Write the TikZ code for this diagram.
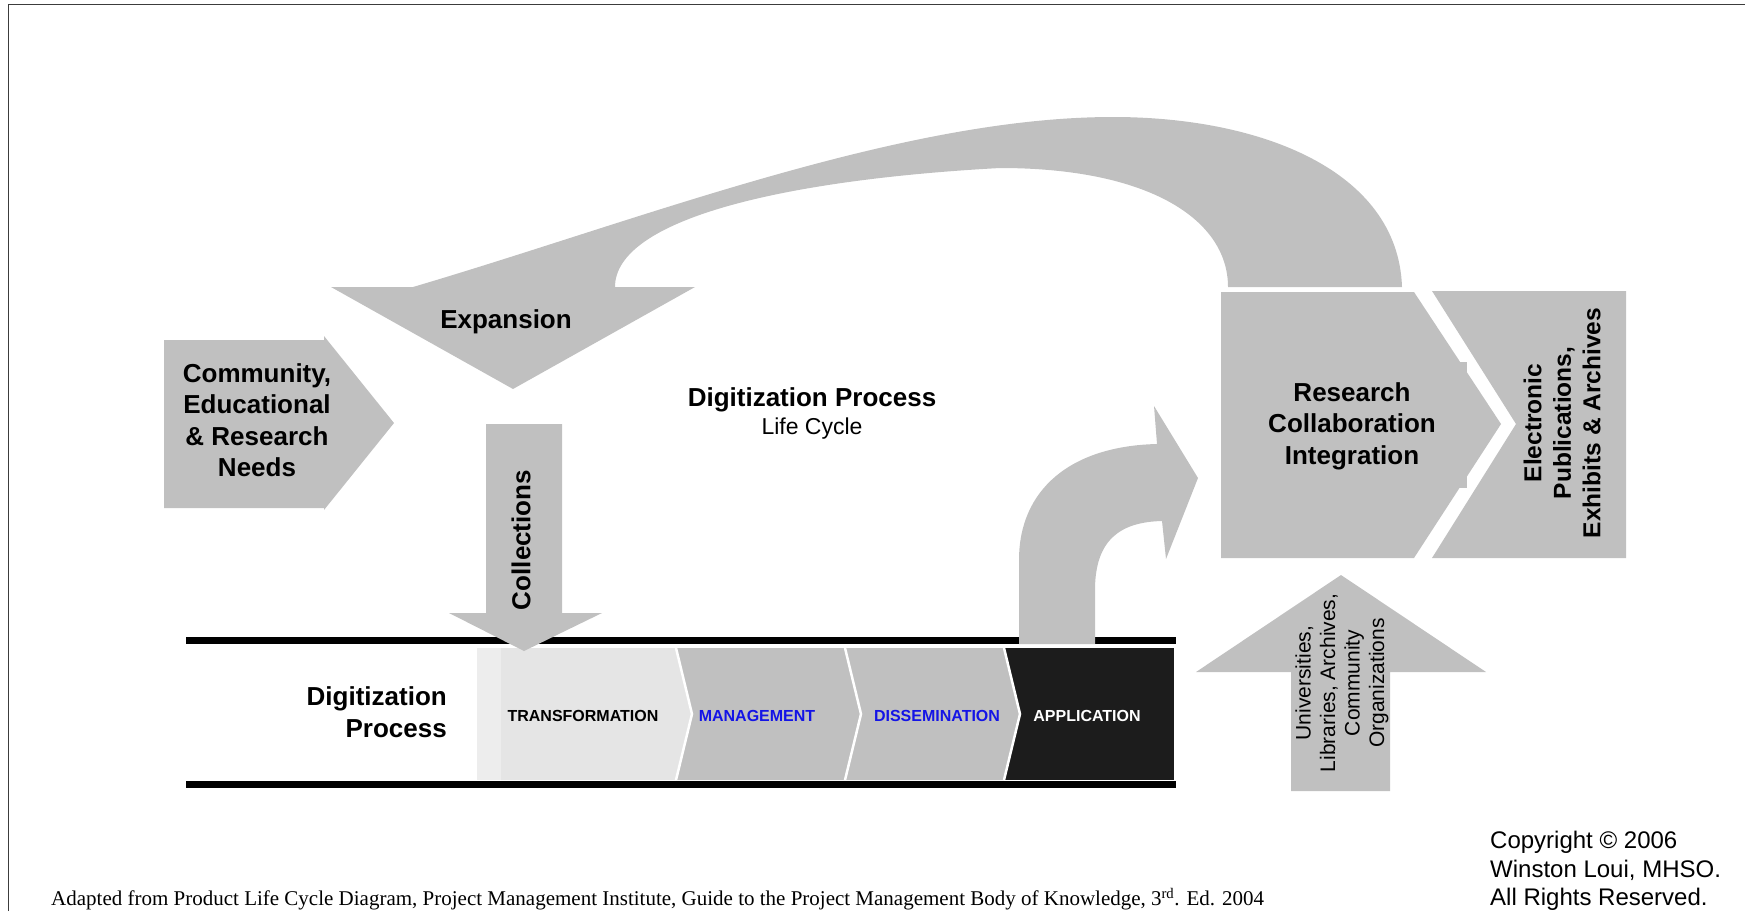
\documentclass[tikz,border=0pt]{standalone}
\usepackage{fontspec}
\setmainfont{Liberation Sans}
\newfontfamily\timesfont{Liberation Serif}
\usetikzlibrary{positioning}
\definecolor{boxgray}{HTML}{C0C0C0}
\definecolor{palegray}{HTML}{E5E5E5}
\definecolor{stripgray}{HTML}{EDEDED}
\definecolor{appblack}{HTML}{1C1C1C}
\definecolor{stageblue}{HTML}{1414E6}
\definecolor{framegray}{HTML}{3C3C3C}

\begin{document}
\begin{tikzpicture}[x=1pt, y=-1pt]
\tikzstyle{greyfill} = [fill=boxgray]
\tikzstyle{boldtext} = [font=\fontsize{26}{31.5}\selectfont\bfseries, align=center, inner sep=0pt]
\tikzstyle{sidetext} = [font=\fontsize{24.5}{29.5}\selectfont\bfseries, align=center, inner sep=0pt]
\tikzstyle{stagetext} = [font=\fontsize{16}{19}\selectfont\bfseries, inner sep=0pt]
\tikzstyle{plaintext} = [align=center, inner sep=0pt]

\useasboundingbox (0,0) rectangle (1745,911);
\draw[framegray, line width=1.5] (8.5,911) -- (8.5,4.5) -- (1745,4.5);

% return arrow from research back to expansion
\fill[greyfill] (413,287) .. controls (640,220) and (900,117) .. (1113,117)
  .. controls (1260,117) and (1398,170) .. (1402,287) -- (1228,287)
  .. controls (1228,220) and (1150,168) .. (1000,168)
  .. controls (780,180) and (615,220) .. (615,287) -- cycle;
\fill[greyfill] (331,287) -- (695,287) -- (513,389) -- cycle;

% needs arrow
\fill[greyfill] (164,340) -- (324,340) -- (324,336) -- (394,423) -- (324,510) -- (324,508) -- (164,508) -- cycle;

% research and outputs
\fill[greyfill] (1221,292) -- (1414,292) -- (1501,424) -- (1414,558) -- (1221,558) -- cycle;
\fill[greyfill] (1221,362) rectangle (1467,488);
\fill[greyfill] (1432,291) -- (1626,291) -- (1626,558) -- (1432,558) -- (1516,424) -- cycle;

% partners arrow
\fill[greyfill] (1291,791) -- (1291,672) -- (1196,672) -- (1341,575) -- (1486,672) -- (1390,672) -- (1390,791) -- cycle;

% digitization bar
\draw[line width=7] (186,640.5) -- (1176,640.5);
\draw[line width=7] (186,784.5) -- (1176,784.5);
\fill[stripgray] (477,648) rectangle (501,780);
\fill[appblack] (1004,648) rectangle (1174,780);
\foreach \xa/\xb/\shade in {845/1004/boxgray, 676/845/boxgray, 501/676/palegray} {
    \fill[\shade] (\xa,648) -- (\xb,648) -- (\xb+16,714) -- (\xb,780) -- (\xa,780) -- cycle;
    \draw[white, line width=2.5] (\xb,648) -- (\xb+16,714) -- (\xb,780);
}

% collections arrow
\fill[greyfill] (486,424) -- (562,424) -- (562,613) -- (602,613) -- (524,651) -- (449,613) -- (486,613) -- cycle;

% application arrow
\fill[greyfill] (1019,644) -- (1019,560) .. controls (1019,490) and (1070,446) .. (1157,444)
  -- (1154,406) -- (1198,478) -- (1166,559) -- (1162,521)
  .. controls (1120,522) and (1095,540) .. (1095,590) -- (1095,644) -- cycle;

% labels
\node (needs) [boldtext] at (257,420) {Community,\\Educational\\\& Research\\Needs};
\node (expansion) [boldtext] at (506,322) {Expansion};
\node (collections) [boldtext, rotate=90] at (521,540) {Collections};
\node (title) [boldtext] at (812,400) {Digitization Process};
\node (lifecycle) [plaintext, font=\fontsize{23}{27}\selectfont] at (812,429) {Life Cycle};
\node (process) [boldtext, align=right, anchor=east] at (447,712) {Digitization\\Process};
\node (research) [boldtext] at (1352,426) {Research\\Collaboration\\Integration};
\node (outputs) [sidetext, rotate=90] at (1562,423) {Electronic\\Publications,\\Exhibits \& Archives};
\node (partners) [plaintext, font=\fontsize{21}{24.5}\selectfont, rotate=90] at (1342,683) {Universities,\\Libraries, Archives,\\Community\\Organizations};

\foreach \x/\name/\txt/\tcol in {583/transform/TRANSFORMATION/black, 757/manage/MANAGEMENT/stageblue, 937/dissem/DISSEMINATION/stageblue, 1087/apply/APPLICATION/white} {
    \node (\name) [stagetext, text=\tcol] at (\x,716) {\txt};
}

\node (copyright) [plaintext, align=left, anchor=west, font=\fontsize{24}{28.5}\selectfont] at (1490,871) {Copyright © 2006\\Winston Loui, MHSO.\\All Rights Reserved.};
\node (source) [plaintext, anchor=west, font=\timesfont\fontsize{21}{24}\selectfont] at (51,899) {Adapted from Product Life Cycle Diagram, Project Management Institute, Guide to the Project Management Body of Knowledge, 3\textsuperscript{rd}. Ed. 2004};

\end{tikzpicture}
\end{document}
